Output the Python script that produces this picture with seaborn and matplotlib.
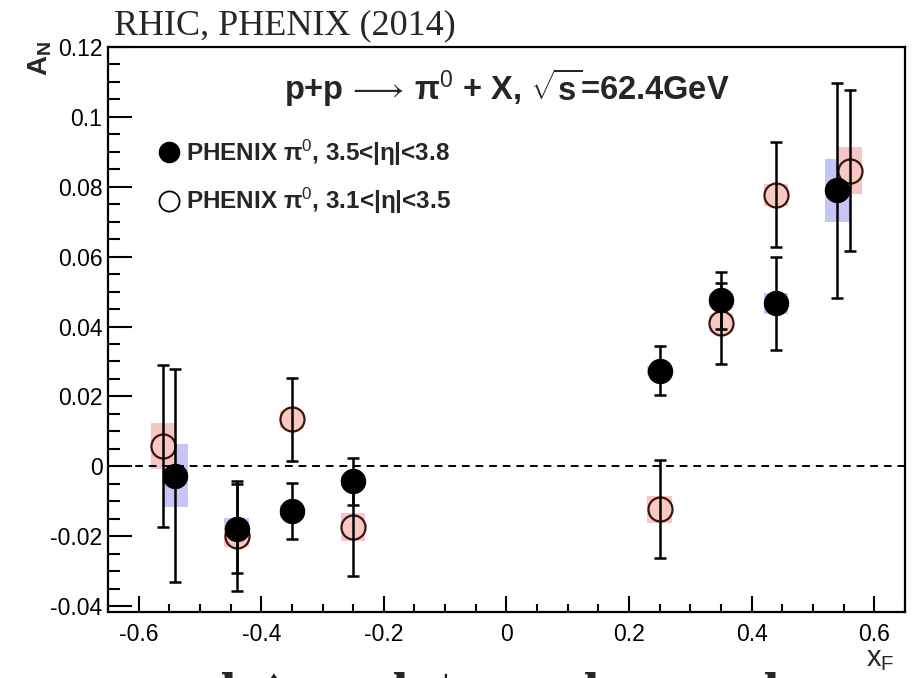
import matplotlib
matplotlib.use("Agg")
import matplotlib.pyplot as plt
from matplotlib.ticker import MultipleLocator, FuncFormatter
from matplotlib.lines import Line2D
import numpy as np
import pandas as pd
import seaborn as sns

# PHENIX pi0, 3.5<|eta|<3.8 (filled)
xf_hi = [-0.54, -0.44, -0.35, -0.25, 0.25, 0.35, 0.44, 0.54]
an_hi = [-0.0027, -0.0178, -0.0129, -0.0043, 0.0274, 0.0475, 0.0466, 0.0790]
stat_hi = [0.0305, 0.0128, 0.0080, 0.0068, 0.0070, 0.0082, 0.0133, 0.0307]
sys_hi = [0.0090, 0.0030, 0.0018, 0.0017, 0.0012, 0.0020, 0.0030, 0.0090]

# PHENIX pi0, 3.1<|eta|<3.5 (open)
xf_lo = [-0.56, -0.44, -0.35, -0.25, 0.25, 0.35, 0.44, 0.56]
an_lo = [0.0058, -0.0200, 0.0134, -0.0174, -0.0123, 0.0410, 0.0777, 0.0846]
stat_lo = [0.0232, 0.0157, 0.0119, 0.0140, 0.0140, 0.0116, 0.0150, 0.0231]
sys_lo = [0.0067, 0.0030, 0.0024, 0.0039, 0.0039, 0.0027, 0.0032, 0.0067]

label_hi = "PHENIX \u03c0$^{0}$, 3.5<|\u03b7|<3.8"
label_lo = "PHENIX \u03c0$^{0}$, 3.1<|\u03b7|<3.5"

sns.set_theme(style="ticks")
plt.rcParams["font.family"] = ["Liberation Sans", "DejaVu Sans"]
plt.rcParams["mathtext.fontset"] = "custom"
plt.rcParams["mathtext.rm"] = "Liberation Sans"
plt.rcParams["mathtext.it"] = "Liberation Sans"
plt.rcParams["mathtext.bf"] = "Liberation Sans:bold"

df_hi = pd.DataFrame({"xF": xf_hi, "AN": an_hi, "stat": stat_hi, "sys": sys_hi})
df_lo = pd.DataFrame({"xF": xf_lo, "AN": an_lo, "stat": stat_lo, "sys": sys_lo})

fig = plt.figure(figsize=(9.15, 6.78), dpi=100)
ax = fig.add_axes([0.118, 0.0973, 0.871, 0.8334])

box_w = 0.04
blue_box = "#c6c6f6"
pink_box = "#f6c6c6"
open_fill = "#f8c8c2"
open_edge = "#3a1510"

# systematic uncertainty boxes
ax.bar(df_hi["xF"], 2 * df_hi["sys"], bottom=df_hi["AN"] - df_hi["sys"],
       width=box_w, color=blue_box, edgecolor="none", zorder=1)
ax.bar(df_lo["xF"], 2 * df_lo["sys"], bottom=df_lo["AN"] - df_lo["sys"],
       width=box_w, color=pink_box, edgecolor="none", zorder=1)

ax.axhline(0, color="black", lw=1.4, ls=(0, (4, 3)), zorder=2)

# markers
sns.scatterplot(data=df_lo, x="xF", y="AN", ax=ax, s=300, color=open_fill,
                edgecolor=open_edge, linewidth=1.6, zorder=3, legend=False)
sns.scatterplot(data=df_hi, x="xF", y="AN", ax=ax, s=300, color="black",
                edgecolor="black", linewidth=1.0, zorder=3, legend=False)

# statistical error bars
for d in (df_lo, df_hi):
    ax.errorbar(d["xF"], d["AN"], yerr=d["stat"], fmt="none", ecolor="black",
                elinewidth=1.8, capsize=4, capthick=1.8, zorder=4)

ax.set_xlim(-0.65, 0.65)
ax.set_ylim(-0.0417, 0.12)
ax.xaxis.set_major_locator(MultipleLocator(0.2))
ax.xaxis.set_minor_locator(MultipleLocator(0.05))
ax.yaxis.set_major_locator(MultipleLocator(0.02))
ax.yaxis.set_minor_locator(MultipleLocator(0.005))
fmt = FuncFormatter(lambda v, p: "0" if abs(v) < 1e-9 else f"{v:g}")
ax.xaxis.set_major_formatter(fmt)
ax.yaxis.set_major_formatter(fmt)

ax.tick_params(axis="both", which="both", direction="in", width=1.5,
               colors="black", labelsize=16.5, top=False, right=False)
ax.tick_params(axis="y", which="major", length=17, pad=4)
ax.tick_params(axis="y", which="minor", length=8.5)
ax.tick_params(axis="x", which="major", length=11.5, pad=8)
ax.tick_params(axis="x", which="minor", length=5.5)
for sp in ax.spines.values():
    sp.set_visible(True)
    sp.set_linewidth(1.6)
    sp.set_color("black")

ax.set_xlabel("")
ax.set_ylabel("")
fig.text(0.044, 0.940, r"$\mathbf{A_N}$", rotation=90, ha="center", va="top",
         fontsize=20)
fig.text(0.977, 0.008, r"$\mathrm{x_F}$", ha="right", va="bottom", fontsize=21)

ax.text(0.5, 0.929,
        "p+p$\\,\\longrightarrow\\,$\u03c0$^{0}$ + X, $\\sqrt{\\mathbf{s}}$=62.4GeV",
        transform=ax.transAxes, ha="center", va="center", fontsize=23.5,
        fontweight="bold")

handles = [
    Line2D([], [], marker="o", ls="none", markersize=14.5, color="black"),
    Line2D([], [], marker="o", ls="none", markersize=14.5, markerfacecolor="white",
           markeredgecolor="black", markeredgewidth=1.3),
]
leg = ax.legend(handles, [label_hi, label_lo], loc="upper left",
                bbox_to_anchor=(0.052, 0.857), frameon=False, fontsize=17.5,
                handlelength=0.8, handletextpad=0.3, labelspacing=0.75,
                borderaxespad=0)
for t in leg.get_texts():
    t.set_fontweight("bold")

fig.text(0.125, 0.986, "RHIC, PHENIX (2014)", ha="left", va="top",
         fontsize=26, family=["Liberation Serif", "DejaVu Serif"])

# top of the asymmetry formula below the frame
serif = ["Liberation Serif", "DejaVu Serif"]
for px, ch, top in [(220, "d", 672), (273, "\u2191", 665), (392, "d", 672),
                    (445, "\u2193", 665), (583, "d", 672), (763, "d", 672)]:
    fig.text(px / 915, (678 - top) / 678, ch, ha="center", va="top",
             fontsize=40, fontweight="bold", family=serif)

fig.savefig("out.png", dpi=100)
